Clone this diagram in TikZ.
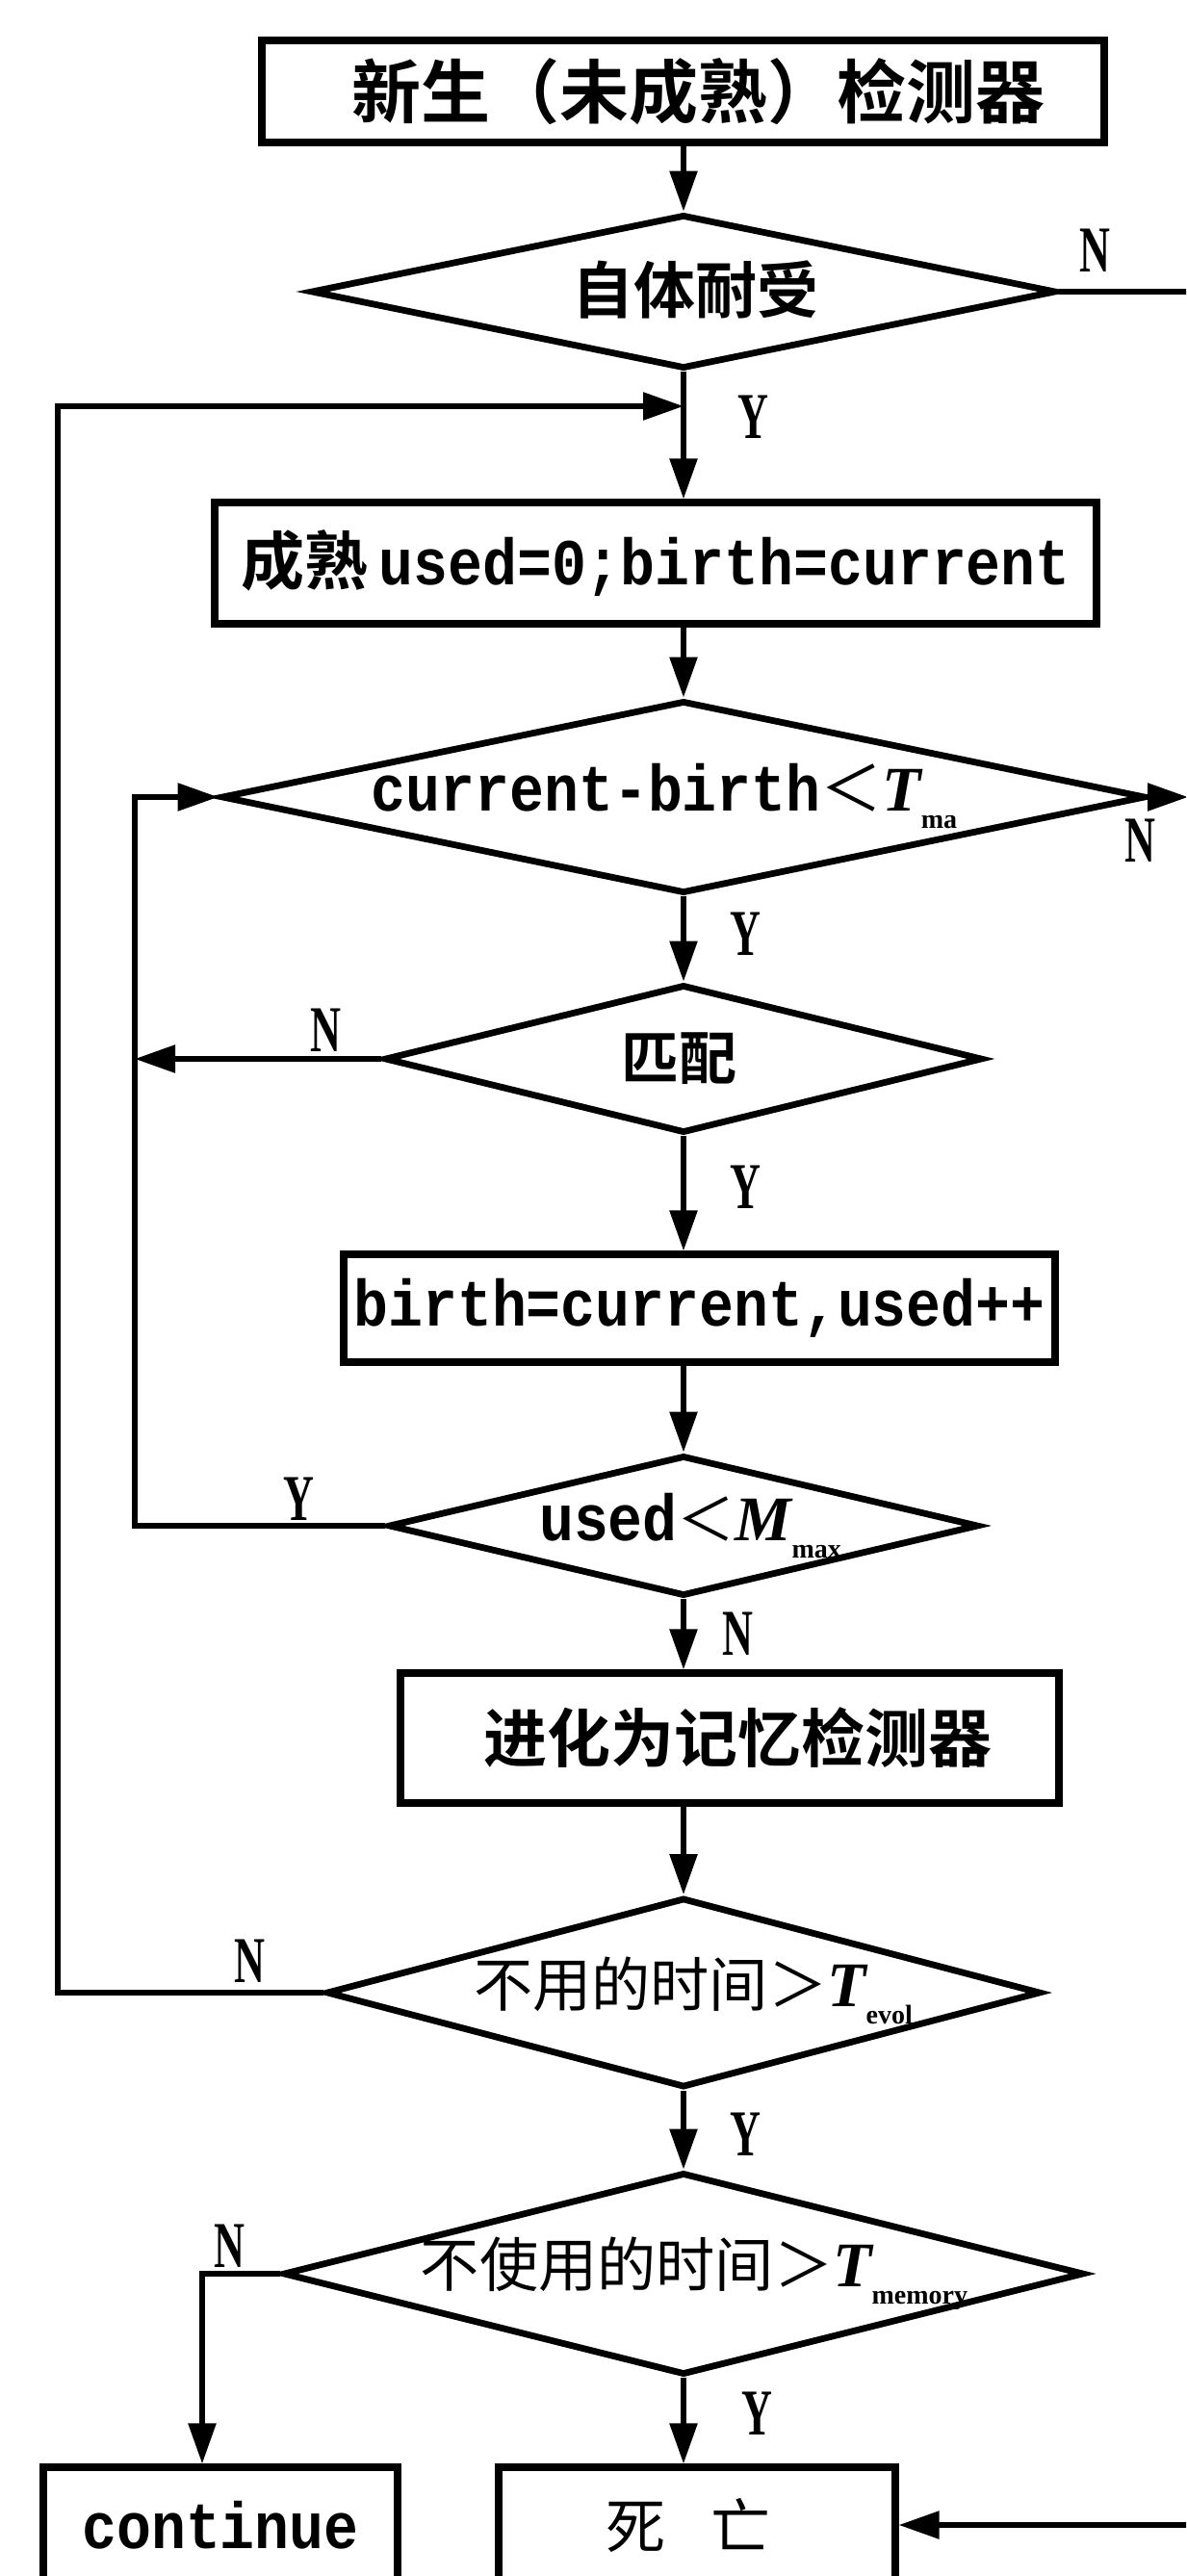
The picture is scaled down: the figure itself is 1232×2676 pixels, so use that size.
\documentclass[tikz,border=0pt]{standalone}
\usepackage{fontspec}
\usetikzlibrary{shapes.geometric,arrows.meta}
\newfontfamily\zhfont{Noto Sans CJK SC}[BoldFont={Noto Sans CJK SC Bold}]
\newfontfamily\mtfont{Liberation Mono}[FakeStretch=0.88]
\newfontfamily\serfont{Liberation Serif}
\newfontfamily\labfont{Liberation Serif}[FakeStretch=0.65]
\newcommand\zhb[2]{{\zhfont\bfseries\fontsize{#1}{#1}\selectfont #2}}
\newcommand\zhr[2]{{\zhfont\fontsize{#1}{#1}\selectfont #2}}
\newcommand\mtt[1]{{\mtfont\bfseries\fontsize{17pt}{17pt}\selectfont #1}}
\newcommand\vit[1]{{\serfont\bfseries\itshape\fontsize{16.5pt}{16.5pt}\selectfont #1}}
\newcommand\subx[1]{\raisebox{-4.5pt}{\serfont\bfseries\fontsize{7pt}{7pt}\selectfont #1}}
\tikzset{
  box/.style={draw, rectangle, line width=1.8pt, inner sep=0pt},
  dia/.style={draw, diamond, line width=1.7pt, inner sep=0pt},
  txt/.style={inner sep=0pt},
  arr/.style={line width=1.4pt, -{Triangle[length=10.5pt,width=7pt]}},
  lab/.style={inner sep=0pt, font={\labfont\bfseries\fontsize{17pt}{17pt}\selectfont}}
}
\begin{document}
\begin{tikzpicture}[x=0.25pt,y=-0.25pt]
\useasboundingbox (0,0) rectangle (1232,2676);
\fill[white] (0,0) rectangle (1232,2676);
\clip (0,0) rectangle (1232,2676);

% nodes
\node[box, minimum width=218.75pt, minimum height=26.5pt] (top) at (709.5,95) {};
\node[txt] (topt) at (725,95) {\zhb{18pt}{新生（未成熟）检测器}};

\node[dia, minimum width=193.5pt, minimum height=40pt] (d1) at (710,303) {};
\node[txt] (d1t) at (722,301) {\zhb{16pt}{自体耐受}};

\node[box, minimum width=229pt, minimum height=31.5pt] (box2) at (681,585) {};
\node[txt] (box2t) at (681,585) {\zhb{16.5pt}{成熟}\mtt{\,used=0;birth=current}};

\node[dia, minimum width=240pt, minimum height=50pt] (d2) at (710,828) {};
\node[txt] (d2t) at (690,827) {\mtt{current-birth}\zhr{16pt}{＜}\vit{T}\subx{ma}};

\node[dia, minimum width=155.25pt, minimum height=38.5pt] (d3) at (710,1100) {};
\node[txt] (d3t) at (705,1100) {\zhb{15pt}{匹配}};

\node[box, minimum width=184.75pt, minimum height=28pt] (box3) at (726.5,1359) {};
\node[txt] (box3t) at (726.5,1359) {\mtt{birth=current,used++}};

\node[dia, minimum width=153.25pt, minimum height=36.5pt] (d4) at (710,1585) {};
\node[txt] (d4t) at (717,1585) {\mtt{used}\zhr{15pt}{＜}\vit{M}\subx{max}};

\node[box, minimum width=171pt, minimum height=33.75pt] (box4) at (758,1805.5) {};
\node[txt] (box4t) at (766,1805.5) {\zhb{16.5pt}{进化为记忆检测器}};

\node[dia, minimum width=185.5pt, minimum height=49.25pt] (d5) at (710,2070) {};
\node[txt] (d5t) at (720,2068) {\zhr{15.3pt}{不用的时间＞}\vit{T}\subx{evol}};

\node[dia, minimum width=208pt, minimum height=52.5pt] (d6) at (710,2362) {};
\node[txt] (d6t) at (721,2362) {\zhr{15.3pt}{不使用的时间＞}\vit{T}\subx{memory}};

\node[box, minimum width=92pt, minimum height=30pt] (cont) at (229,2623) {};
\node[txt] (contt) at (229,2623) {\mtt{continue}};

\node[box, minimum width=103pt, minimum height=30pt] (death) at (724,2623) {};
\node[txt] (deatht) at (715,2623) {\zhr{15.5pt}{死\hspace{12pt}亡}};

% labels
\node[lab] (n1) at (1137,260) {N};
\node[lab] (y1) at (782,433) {Y};
\node[lab] (n2) at (1184,873) {N};
\node[lab] (y2) at (774,970) {Y};
\node[lab] (n3) at (338,1070) {N};
\node[lab] (y3) at (774,1233) {Y};
\node[lab] (y4) at (310,1557) {Y};
\node[lab] (n4) at (766,1697) {N};
\node[lab] (n5) at (259,2037) {N};
\node[lab] (y5) at (774,2217) {Y};
\node[lab] (n6) at (238,2333) {N};
\node[lab] (y6) at (786,2507) {Y};

% helper coordinates
\coordinate (ax) at (710,0);
\coordinate (rx) at (1240,0);
\coordinate (re) at (1234,0);
\coordinate (ox) at (60,422);
\coordinate (ix) at (140,0);
\coordinate (nc) at (210,2362);

% main axis
\draw[arr] (ax |- top.south) -- (d1.north);
\draw[arr] (d1.south) -- (ax |- box2.north);
\draw[arr] (ax |- box2.south) -- (d2.north);
\draw[arr] (d2.south) -- (d3.north);
\draw[arr] (d3.south) -- (ax |- box3.north);
\draw[arr] (ax |- box3.south) -- (d4.north);
\draw[arr] (d4.south) -- (ax |- box4.north);
\draw[arr] (ax |- box4.south) -- (d5.north);
\draw[arr] (d5.south) -- (d6.north);
\draw[arr] (d6.south) -- (ax |- death.north);

% right side
\draw[arr] (d1.east) -- (d1.east -| rx) -- (death.east -| rx) -- (death.east);
\draw[arr] (d2.east) -- (d2.east -| re);

% left loops
\draw[arr] (d5.west) -- (d5.west -| ox) -- (ox) -- (ox -| ax);
\draw[arr] (d4.west) -- (d4.west -| ix) -- (d2.west -| ix) -- (d2.west);
\draw[arr] (d3.west) -- (d3.west -| ix);
\draw[arr] (d6.west) -- (nc) -- (nc |- cont.north);
\end{tikzpicture}
\end{document}
